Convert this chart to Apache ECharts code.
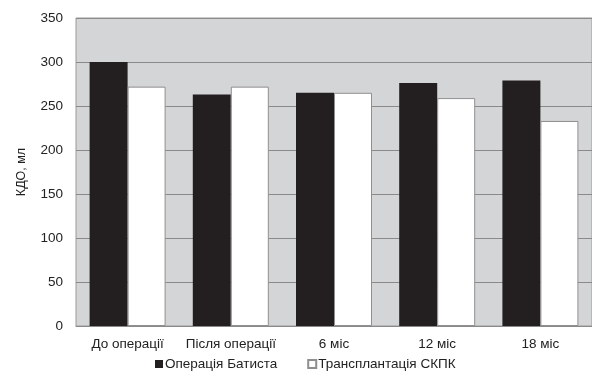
<!DOCTYPE html>
<html><head><meta charset="utf-8">
<script src="https://cdn.jsdelivr.net/npm/echarts@6/dist/echarts.min.js"></script>
<style>html,body{margin:0;padding:0;background:#fff}#c{width:592px;height:373px}</style>
</head><body><div id="c"></div>
<script>
const categories = ['До операції', 'Після операції', '6 міс', '12 міс', '18 міс'];
const batista = [300, 263, 265, 276, 279];
const skpk = [272, 272, 265, 259, 233];
const seriesNames = ['Операція Батиста', 'Трансплантація СКПК'];
const yTicks = { min: 0, max: 350, interval: 50 };

const chart = echarts.init(document.getElementById('c'));
const font = 'Liberation Sans, Arial, sans-serif';
chart.setOption({
  animation: false,
  textStyle: { fontFamily: font },
  grid: { left: 76, top: 18, bottom: 47, right: -2, show: true, backgroundColor: '#d4d5d7', borderColor: '#9a9a9a', borderWidth: 1 },
  legend: {
    top: 352, left: 150, itemWidth: 8, itemHeight: 8, itemGap: 30,
    icon: 'rect',
    textStyle: { fontSize: 13.5, color: '#222', fontFamily: font, padding: [0, 0, 0, -3] },
    data: seriesNames
  },
  xAxis: {
    type: 'category', data: categories,
    axisLine: { lineStyle: { color: '#8a8a8a' } },
    axisTick: { show: false },
    axisLabel: { fontSize: 13.5, color: '#222', margin: 11, interval: 0 }
  },
  yAxis: {
    type: 'value', min: yTicks.min, max: yTicks.max, interval: yTicks.interval,
    name: 'КДО, мл', nameLocation: 'middle', nameGap: 48, nameRotate: 90,
    nameTextStyle: { fontSize: 12.5, color: '#222' },
    axisLine: { show: false }, axisTick: { show: false },
    axisLabel: { fontSize: 13.5, color: '#222', margin: 13 },
    splitLine: { lineStyle: { color: '#8a8a8a', width: 1 } }
  },
  series: [
    { name: seriesNames[0], type: 'bar', data: batista, barWidth: 38, barGap: '0%',
      itemStyle: { color: '#231f20' } },
    { name: seriesNames[1], type: 'bar', data: skpk, barWidth: 38,
      itemStyle: { color: '#ffffff', borderColor: '#8f8f8f', borderWidth: 1 } }
  ]
});
</script></body></html>
